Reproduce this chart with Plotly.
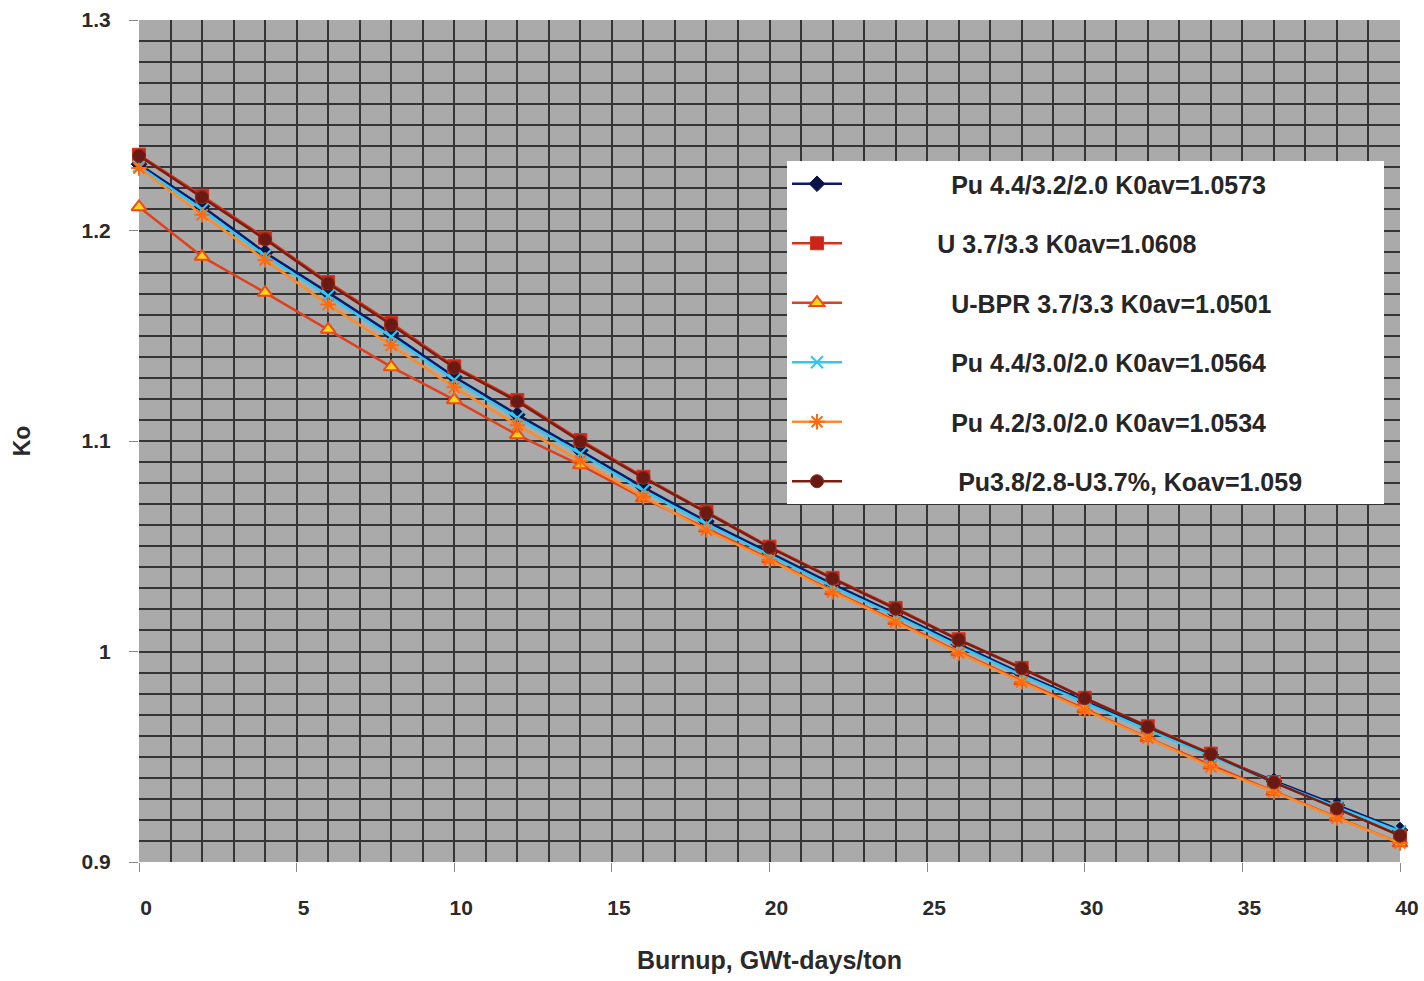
import plotly.graph_objects as go

burnup = [0, 2, 4, 6, 8, 10, 12, 14, 16, 18, 20, 22, 24, 26, 28, 30, 32, 34, 36, 38, 40]

pu_44_32_20 = [1.2315, 1.2115, 1.1895, 1.1705, 1.1510, 1.1305, 1.1125, 1.0955, 1.0780, 1.0618, 1.0470,
               1.0320, 1.0180, 1.0035, 0.9895, 0.9765, 0.9635, 0.9510, 0.9385, 0.9270, 0.9152]
u_37_33 = [1.2360, 1.2165, 1.1965, 1.1755, 1.1560, 1.1355, 1.1195, 1.1005, 1.0830, 1.0665, 1.0498,
           1.0350, 1.0207, 1.0058, 0.9922, 0.9780, 0.9645, 0.9515, 0.9380, 0.9255, 0.9125]
u_bpr_37_33 = [1.2112, 1.1876, 1.1705, 1.1530, 1.1352, 1.1195, 1.1029, 1.0886, 1.0729, 1.0585, 1.0440,
               1.0288, 1.0146, 0.9998, 0.9860, 0.9727, 0.9590, 0.9460, 0.9335, 0.9212, 0.9090]
pu_44_30_20 = [1.2305, 1.2100, 1.1880, 1.1690, 1.1495, 1.1290, 1.1110, 1.0940, 1.0765, 1.0605, 1.0458,
               1.0308, 1.0170, 1.0025, 0.9887, 0.9757, 0.9628, 0.9503, 0.9378, 0.9262, 0.9145]
pu_42_30_20 = [1.2297, 1.2075, 1.1860, 1.1648, 1.1455, 1.1255, 1.1075, 1.0905, 1.0735, 1.0577, 1.0435,
               1.0283, 1.0140, 0.9993, 0.9855, 0.9722, 0.9589, 0.9451, 0.9333, 0.9209, 0.9090]
pu38_28_u37 = [1.2355, 1.2158, 1.1958, 1.1748, 1.1552, 1.1348, 1.1188, 1.0998, 1.0825, 1.0660, 1.0494,
               1.0346, 1.0203, 1.0055, 0.9920, 0.9778, 0.9642, 0.9512, 0.9378, 0.9254, 0.9125]

series_names = [
    "Pu 4.4/3.2/2.0 K0av=1.0573",
    "U 3.7/3.3 K0av=1.0608",
    "U-BPR 3.7/3.3 K0av=1.0501",
    "Pu 4.4/3.0/2.0 K0av=1.0564",
    "Pu 4.2/3.0/2.0 K0av=1.0534",
    "Pu3.8/2.8-U3.7%, Koav=1.059",
]
x_ticks = [0, 5, 10, 15, 20, 25, 30, 35, 40]
y_ticks = [0.9, 1.0, 1.1, 1.2, 1.3]
y_ticktext = ["0.9", "1", "1.1", "1.2", "1.3"]

NB = "\u00a0"
lead = [15, 13, 15, 15, 15, 16]
trail = [11, 11, 11, 11, 11, 11]

styles = [
    dict(line=dict(color="#0a1a6e", width=2.5),
         marker=dict(symbol="diamond", size=12, color="#0a1446", line=dict(color="#0a1446", width=1))),
    dict(line=dict(color="#d8321c", width=2.5),
         marker=dict(symbol="square", size=13, color="#c8261a", line=dict(color="#d8321c", width=1))),
    dict(line=dict(color="#e0401c", width=2.5),
         marker=dict(symbol="triangle-up", size=13, color="#ffd21e", line=dict(color="#ec4a16", width=2))),
    dict(line=dict(color="#30c8f0", width=2.5),
         marker=dict(symbol="x-thin", size=12, color="#30c8f0", line=dict(color="#30c8f0", width=2))),
    dict(line=dict(color="#ff8a28", width=2.5),
         marker=dict(symbol="asterisk", size=13, color="#ff6a10", line=dict(color="#ff6a10", width=2))),
    dict(line=dict(color="#7a1e12", width=2.5),
         marker=dict(symbol="circle", size=13, color="#6a1a12", line=dict(color="#8a2a14", width=1))),
]

data = [pu_44_32_20, u_37_33, u_bpr_37_33, pu_44_30_20, pu_42_30_20, pu38_28_u37]

fig = go.Figure()
for i, (name, ys, st) in enumerate(zip(series_names, data, styles)):
    fig.add_trace(go.Scatter(
        x=burnup, y=ys, mode="lines+markers",
        name=NB * lead[i] + name + NB * trail[i],
        legendgroup=f"g{i}",
        line=st["line"], marker=st["marker"], cliponaxis=False,
    ))

W, H = 1424, 981
ml, mr, mt, mb = 139, 24, 20, 119
pw = W - ml - mr
ph = H - mt - mb

fig.update_layout(
    width=W, height=H,
    margin=dict(l=ml, r=mr, t=mt, b=mb, autoexpand=False),
    paper_bgcolor="white",
    plot_bgcolor="#aaaaaa",
    font=dict(family="Liberation Sans, Arial, sans-serif", color="#2a2a2a", weight="bold"),
    legend=dict(
        x=(787 - ml) / pw, y=(H - mb - 161) / ph, xanchor="left", yanchor="top",
        bgcolor="white", borderwidth=0,
        font=dict(size=25, color="#262626", weight="bold"),
        traceorder="grouped", tracegroupgap=24, itemwidth=50,
    ),
    showlegend=True,
)
fig.update_xaxes(
    range=[0, 40], tickvals=x_ticks, ticks="outside", ticklen=9, tickcolor="#8a8a8a",
    tickfont=dict(size=21, color="#2a2a2a"), ticklabelstandoff=18, ticklabelshift=7,
    showgrid=True, gridcolor="#353535", gridwidth=1.6, zeroline=False, showline=False,
    minor=dict(dtick=1, showgrid=True, gridcolor="#353535", gridwidth=1.6),
    automargin=False,
    title=dict(text=NB * 3 + "Burnup, GWt-days/ton", font=dict(size=25, color="#2a2a2a"), standoff=33),
)
fig.update_yaxes(
    range=[0.9, 1.3], tickvals=y_ticks, ticktext=y_ticktext, ticks="outside", ticklen=9,
    tickcolor="#8a8a8a", tickfont=dict(size=21, color="#2a2a2a"), ticklabelstandoff=14,
    showgrid=True, gridcolor="#353535", gridwidth=1.6, zeroline=False, showline=False,
    minor=dict(dtick=0.01, showgrid=True, gridcolor="#353535", gridwidth=1.6),
    automargin=False,
    title=dict(text="Ko", font=dict(size=23, color="#2a2a2a"), standoff=44),
)

fig.write_html("out.html")
